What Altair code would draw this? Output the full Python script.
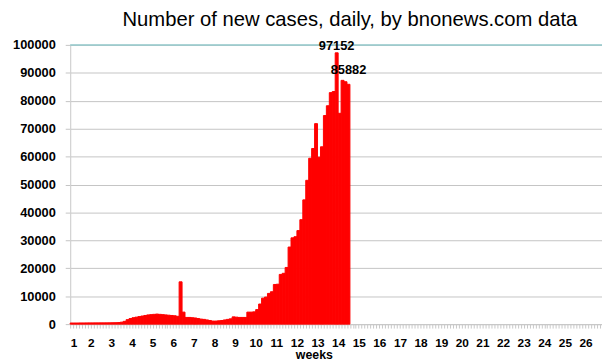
import json
import altair as alt
import pandas as pd

TITLE = "Number of new cases, daily, by bnonews.com data"
X_TITLE = "weeks"
week_labels = ["1", "2", "3", "4", "5", "6", "7", "8", "9", "10", "11", "12", "13",
               "14", "15", "16", "17", "18", "19", "20", "21", "22", "23", "24", "25", "26"]

daily_cases = [
    400, 400, 400, 420, 420, 430, 440, 440, 450, 450, 460, 460, 470, 480, 500, 520,
    560, 700, 1000, 1600, 2000, 2300, 2500, 2700, 2900, 3100, 3300, 3400, 3500, 3600,
    3500, 3400, 3300, 3200, 3100, 3000, 2800,
    15152, 4300, 2400, 2400, 2300, 2200, 2000, 1800, 1700, 1500, 1300, 1100, 1100,
    1200, 1300, 1500, 1700, 1900, 2600, 2500, 2400, 2400, 2400,
    4300, 4300, 4400, 5200, 7200, 9300, 9700, 11000, 11600, 14200, 14300, 17800,
    18200, 20300, 27600, 30900, 31300, 33500, 37400, 44500, 51500, 59400, 62900,
    71800, 59800, 63500, 74700, 78200, 82900, 83300, 97152, 75500, 87300, 86800, 85882,
]
peak_days = [90, 94]
peak_labels = ["97152", "85882"]

y_ticks = [0, 10000, 20000, 30000, 40000, 50000, 60000, 70000, 80000, 90000, 100000]

df = pd.DataFrame({"day": list(range(len(daily_cases))), "cases": daily_cases})
labels_df = pd.DataFrame({
    "day": peak_days,
    "cases": [daily_cases[d] for d in peak_days],
    "label": peak_labels,
})
top_df = pd.DataFrame({"y": [y_ticks[-1]]})

FONT = "Liberation Sans"
PLOT_W = 539
PLOT_H = 283
DAY_MAX = 180.6

label_arr = json.dumps(week_labels)
label_expr = (f"(datum.value % 7 === 0 && datum.value / 7 < {len(week_labels)}) ? "
              f"{label_arr}[datum.value / 7] : ''")

x_scale = alt.Scale(domain=[0, DAY_MAX], nice=False, zero=False)
y_scale = alt.Scale(domain=[0, 100000], nice=False)

x_axis = alt.Axis(
    values=list(range(0, 181)),
    labelExpr=label_expr,
    grid=False,
    tickSize=4,
    tickColor="#c8c8c8",
    domainColor="#c8c8c8",
    labelFont=FONT,
    labelFontSize=12,
    labelFontWeight="bold",
    labelColor="black",
    labelPadding=10,
    labelOverlap=False,
    labelFlush=True,
    title=X_TITLE,
    titleFont=FONT,
    titleFontSize=12.5,
    titleFontWeight="bold",
    titleColor="black",
    titleX=247,
    titleY=35,
    titleAlign="center",
    titleBaseline="alphabetic",
)
y_axis = alt.Axis(
    values=y_ticks,
    format="d",
    grid=True,
    gridColor="#c4c4c4",
    tickColor="#c4c4c4",
    tickSize=5,
    domainColor="#d0d0d0",
    labelFont=FONT,
    labelFontSize=13,
    labelFontWeight="bold",
    labelColor="black",
    labelPadding=10,
    labelOverlap=False,
    title=None,
)

bars = alt.Chart(df).mark_bar(color="#ff0000", stroke="#ff0000", strokeWidth=1).transform_calculate(
    day_end="datum.day + 1", base="0"
).encode(
    x=alt.X("day:Q", scale=x_scale, axis=x_axis),
    x2="day_end:Q",
    y=alt.Y("cases:Q", scale=y_scale, axis=y_axis),
    y2="base:Q",
)

top_line = alt.Chart(top_df).mark_rule(color="#93cacc", strokeWidth=1.5).encode(
    y=alt.Y("y:Q", scale=y_scale, axis=y_axis)
)

def peak_text(idx, dy):
    return alt.Chart(labels_df.iloc[[idx]]).mark_text(
        font=FONT, fontSize=13, fontWeight="bold", color="black",
        baseline="alphabetic", align="center", dy=dy,
    ).transform_calculate(mid="datum.day + 0.5").encode(
        x=alt.X("mid:Q", scale=x_scale, axis=x_axis),
        y=alt.Y("cases:Q", scale=y_scale, axis=y_axis),
        text="label:N",
    )

chart = alt.layer(bars, top_line, peak_text(0, -3), peak_text(1, -10)).properties(
    width=PLOT_W,
    height=PLOT_H,
    title=alt.TitleParams(
        text=TITLE, font=FONT, fontSize=20.5, fontWeight="normal", color="black",
        anchor="middle", frame="group", dx=14, offset=9,
    ),
    autosize=alt.AutoSizeParams(type="none"),
    padding={"left": 63, "top": 35, "right": 0, "bottom": 36},
).configure_view(stroke=None).configure(background="white")

chart.save("out.html", embed_options={"renderer": "svg", "actions": False})
